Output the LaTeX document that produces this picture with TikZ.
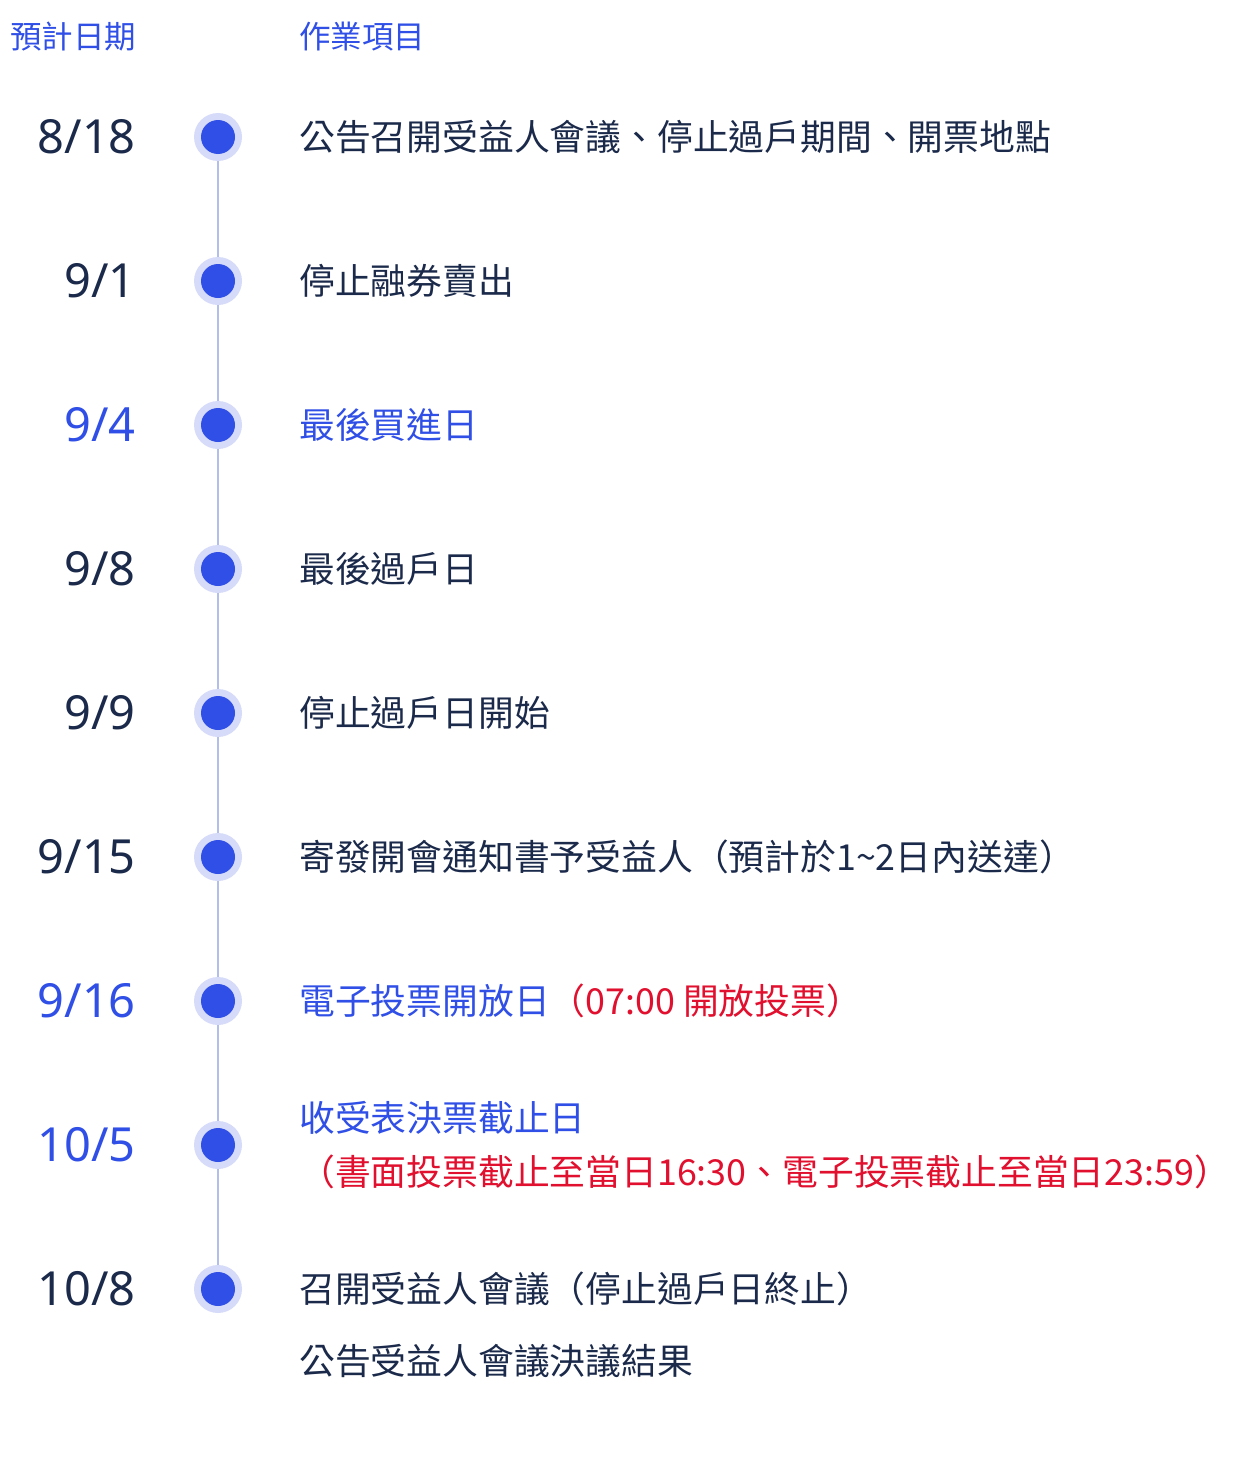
\documentclass[tikz,border=0pt]{standalone}
\usepackage{fontspec}
\setmainfont{Noto Sans CJK TC}
\newfontfamily\datefont{Noto Sans}
\definecolor{navy}{HTML}{1B2A4A}
\definecolor{bl}{HTML}{2F4FE6}
\definecolor{halo}{HTML}{D5DBF8}
\definecolor{ln}{HTML}{B3BFEA}
\definecolor{rd}{HTML}{E0102E}
\begin{document}
\begin{tikzpicture}[x=1pt,y=-1pt,
  date/.style={anchor=east,font=\datefont\fontsize{47}{50}\selectfont,text=navy,inner sep=0},
  item/.style={anchor=west,font=\fontsize{35.8}{40}\selectfont,text=navy,inner sep=0},
  head/.style={anchor=west,font=\fontsize{31.5}{36}\selectfont,text=bl,inner sep=0},
  halo/.style={circle,fill=halo,minimum size=48pt,inner sep=0},
  dot/.style={circle,fill=bl,minimum size=34pt,inner sep=0}]
\useasboundingbox (0,0) rectangle (1240,1480);
\node[head] (h1) at (10,37) {預計日期};
\node[head] (h2) at (299,37) {作業項目};
\coordinate (top) at (218,137);
\coordinate (bot) at (218,1289);
\draw[ln,line width=1.5pt] (top) -- (bot);
\foreach \y/\d/\c [count=\i] in {137/8\slash18/navy,281/9\slash1/navy,425/9\slash4/bl,569/9\slash8/navy,713/9\slash9/navy,857/9\slash15/navy,1001/9\slash16/bl,1145/10\slash5/bl,1289/10\slash8/navy}{
  \node[date,text=\c] (d\i) at (136,\y) {\d};
  \node[halo] (q\i) at (218,\y) {};
  \node[dot] (p\i) at (218,\y) {};
}
\node[item] (t1) at (299,137) {公告召開受益人會議、停止過戶期間、開票地點};
\node[item] (t2) at (299,281) {停止融券賣出};
\node[item,text=bl] (t3) at (299,425) {最後買進日};
\node[item] (t4) at (299,569) {最後過戶日};
\node[item] (t5) at (299,713) {停止過戶日開始};
\node[item] (t6) at (299,857) {寄發開會通知書予受益人（預計於1\textasciitilde2日內送達）};
\node[item,text=bl] (t7) at (299,1001) {電子投票開放日\textcolor{rd}{（07:00 開放投票）}};
\node[item,text=bl] (t8) at (299,1118) {收受表決票截止日};
\node[item,text=rd] (t8b) at (299,1172) {（書面投票截止至當日16:30、電子投票截止至當日23:59）};
\node[item] (t9) at (299,1289) {召開受益人會議（停止過戶日終止）};
\node[item] (t10) at (299,1361) {公告受益人會議決議結果};
\end{tikzpicture}
\end{document}
